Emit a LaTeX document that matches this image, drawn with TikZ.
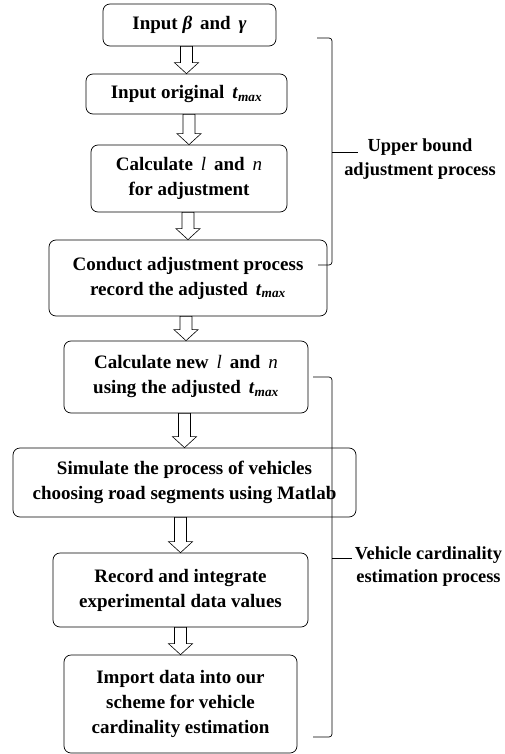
\documentclass[tikz,border=0pt]{standalone}
\RequirePackage{fontspec}
\setmainfont{Liberation Serif}
\RequirePackage{tikz}
\usetikzlibrary{calc}
\newcommand{\tmax}{\,\textbf{\textit{t}}\textsubscript{\textit{max}}}
\newcommand{\blockarr}[2]{\draw[barr] let \p1=(#1.south), \p2=(#2.north) in
    (\x2-6pt,\y1) -- (\x2-6pt,\y2+11pt) -- (\x2-12pt,\y2+11pt) -- (\x2,\y2)
    -- (\x2+12pt,\y2+11pt) -- (\x2+6pt,\y2+11pt) -- (\x2+6pt,\y1) -- cycle;}
\begin{document}
\begin{tikzpicture}[x=1pt,y=-1pt,
                        box/.style={draw,rounded corners=7pt,line width=0.7pt,align=center,inner sep=0pt,
                            font=\bfseries\fontsize{19}{25}\selectfont},
                        lbl/.style={align=center,inner sep=0pt,font=\bfseries\fontsize{18.4}{23.5}\selectfont},
                        barr/.style={line width=0.6pt,fill=white},
                        brk/.style={line width=0.7pt,rounded corners=3pt}]
                        \useasboundingbox (0,0) rectangle (504,754);
                        \node[box,minimum width=173pt,minimum height=42pt] (inbg) at (189.5,25)
                            {Input \textit{β}\, and\, \textit{γ}};
                        \node[box,minimum width=201pt,minimum height=40pt] (intm) at (186.5,94)
                            {Input original \tmax};
                        \node[box,minimum width=196pt,minimum height=67pt] (calc) at (189,178.5)
                            {Calculate\, \textit{\mdseries l}\, and\, \textit{\mdseries n}\\for adjustment};
                        \node[box,minimum width=278pt,minimum height=76pt] (cond) at (188,278)
                            {Conduct adjustment process\\record the adjusted \tmax};
                        \node[box,minimum width=244pt,minimum height=72pt] (cnew) at (186,377)
                            {Calculate new\, \textit{\mdseries l}\, and\, \textit{\mdseries n}\\using the adjusted \tmax};
                        \node[box,minimum width=343pt,minimum height=69pt] (simu) at (184.5,482.5)
                            {Simulate the process of vehicles\\choosing road segments using Matlab};
                        \node[box,minimum width=255pt,minimum height=74pt] (reco) at (180.5,590)
                            {Record and integrate\\experimental data values};
                        \node[box,minimum width=233pt,minimum height=98pt] (impo) at (180.5,704)
                            {Import data into our\\scheme for vehicle\\cardinality estimation};
                        \blockarr{inbg}{intm}
                        \blockarr{intm}{calc}
                        \blockarr{calc}{cond}
                        \blockarr{cond}{cnew}
                        \blockarr{cnew}{simu}
                        \blockarr{simu}{reco}
                        \blockarr{reco}{impo}
                        \draw[brk] (317,38) -- (332,38) -- (332,265) -- (318,265);
                        \draw[brk] (332,152) -- (358,152);
                        \node[lbl] (uplb) at (420,159) {Upper bound\\adjustment process};
                        \draw[brk] (313,377) -- (332,377) -- (332,737) -- (313,737);
                        \draw[brk] (332,558) -- (352,558);
                        \node[lbl] (vclb) at (428.5,566.5) {Vehicle cardinality\\estimation process};
                    \end{tikzpicture}
\end{document}
